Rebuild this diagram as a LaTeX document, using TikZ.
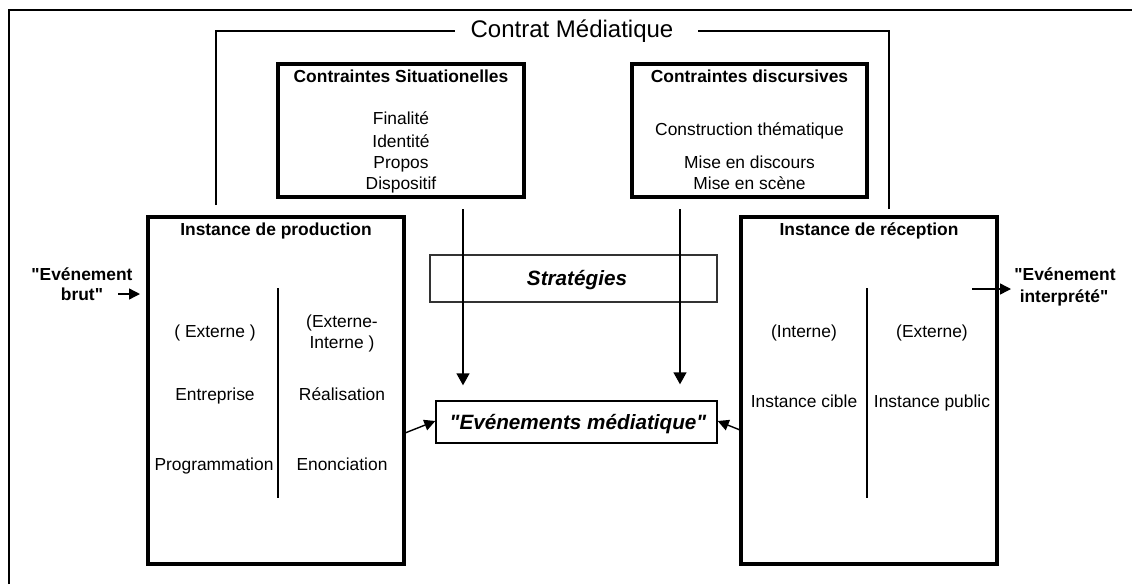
\documentclass[tikz,border=0pt]{standalone}
\usepackage{fontspec}
\setmainfont{Liberation Sans}
\usetikzlibrary{arrows.meta,calc}
\newcommand{\dq}{\XeTeXglyph\XeTeXcharglyph"0022\relax}
\begin{document}
\begin{tikzpicture}[x=1pt,y=-1pt,
  thickbox/.style={draw,line width=4pt,inner sep=0pt},
  thinbox/.style={draw,line width=1.4pt,inner sep=0pt},
  frame/.style={line width=2pt},
  divider/.style={line width=2pt},
  txt/.style={font=\fontsize{17.4}{20}\selectfont,inner sep=0pt,anchor=base},
  btxt/.style={font=\fontsize{17.4}{20}\selectfont\bfseries,inner sep=0pt,anchor=base},
  bigtxt/.style={font=\fontsize{20.7}{24}\selectfont\bfseries\itshape,inner sep=0pt,anchor=base},
  arrL/.style={line width=1.4pt,-{Triangle[length=12pt,width=13pt]}},
  arrS/.style={line width=1.4pt,-{Triangle[length=11pt,width=11pt]}}]
\useasboundingbox (0,0) rectangle (1132,584);
\fill[white] (0,0) rectangle (1132,584);
% outer frame
\draw[frame] (9,584) -- (9,10) -- (1132,10);
% contract
\node[font=\fontsize{24}{28}\selectfont,inner sep=0pt,anchor=base,text height=16pt,text depth=4pt] (contrat) at (572,37) {Contrat Médiatique};
\coordinate (cL) at (216,205);
\coordinate (cR) at (889,209);
\draw[frame] (cL) |- ([xshift=-15pt]contrat.west);
\draw[frame] (cR) |- ([xshift=24pt]contrat.east);
% constraint boxes
\node[thickbox,minimum width=246pt,minimum height=133pt] (sit) at (401,130.5) {};
\node[btxt] (sitT) at (401,82.5) {Contraintes Situationelles};
\node[txt] (s1) at (401,124.7) {Finalité};
\node[txt] (s2) at (401,147.7) {Identité};
\node[txt] (s3) at (401,168.7) {Propos};
\node[txt] (s4) at (401,189.7) {Dispositif};
\node[thickbox,minimum width=235pt,minimum height=133pt] (dis) at (749.5,130.5) {};
\node[btxt] (disT) at (749.5,82.5) {Contraintes discursives};
\node[txt] (d1) at (749.5,135.7) {Construction thématique};
\node[txt] (d2) at (749.5,168.7) {Mise en discours};
\node[txt] (d3) at (749.5,189.7) {Mise en scène};
% production
\node[thickbox,minimum width=256pt,minimum height=347pt] (prod) at (276,390.5) {};
\node[btxt] (prodT) at (276,235.7) {Instance de production};
\draw[divider] (278,288) -- (278,498);
\node[txt] (p1) at (215,337.7) {( Externe )};
\node[txt] (p2) at (342,327.7) {(Externe-};
\node[txt] (p3) at (342,348.7) {Interne )};
\node[txt] (p4) at (215,400.7) {Entreprise};
\node[txt] (p5) at (342,400.7) {Réalisation};
\node[txt] (p6) at (214,470.7) {Programmation};
\node[txt] (p7) at (342,470.7) {Enonciation};
% reception
\node[thickbox,minimum width=256pt,minimum height=347pt] (rec) at (869,390.5) {};
\node[btxt] (recT) at (869,235.7) {Instance de réception};
\draw[divider] (867,288) -- (867,498);
\node[txt] (r1) at (804,337.7) {(Interne)};
\node[txt] (r2) at (932,337.7) {(Externe)};
\node[txt] (r3) at (804,407.7) {Instance cible};
\node[txt] (r4) at (932,407.7) {Instance public};
% strategies and event
\node[thinbox,draw=black!80,minimum width=287pt,minimum height=47pt] (strat) at (573.5,278.5) {};
\node[bigtxt] (stratT) at (577,285.5) {Stratégies};
\node[thinbox,minimum width=281pt,minimum height=42pt] (evt) at (576.5,422) {};
\node[bigtxt] (evtT) at (578,429) {\dq Evénements médiatique\dq};
% side labels
\node[btxt] (eb1) at (82,280.7) {\dq Evénement};
\node[btxt] (eb2) at (82,300.7) {brut\dq};
\node[btxt] (ei1) at (1065,280.7) {\dq Evénement};
\node[btxt] (ei2) at (1064,302.7) {interprété\dq};
% arrows
\coordinate (b0) at (118,294);
\draw[arrS,shorten >=6pt] (b0) -- (prod.west |- b0);
\coordinate (i0) at (972,289);
\coordinate (i1) at (1011,289);
\draw[arrS] (i0) -- (i1);
\coordinate (v1) at (463,209);
\coordinate (v2) at (680,209);
\draw[arrL,shorten >=15pt] (v1) -- (v1 |- evt.north);
\draw[arrL,shorten >=16pt] (v2) -- (v2 |- evt.north);
\coordinate (pa) at (405,433);
\coordinate (ra) at (740,430);
\draw[arrS] (pa) -- ([yshift=1pt]evt.west);
\draw[arrS] (ra) -- ([yshift=1pt]evt.east);
\end{tikzpicture}
\end{document}
